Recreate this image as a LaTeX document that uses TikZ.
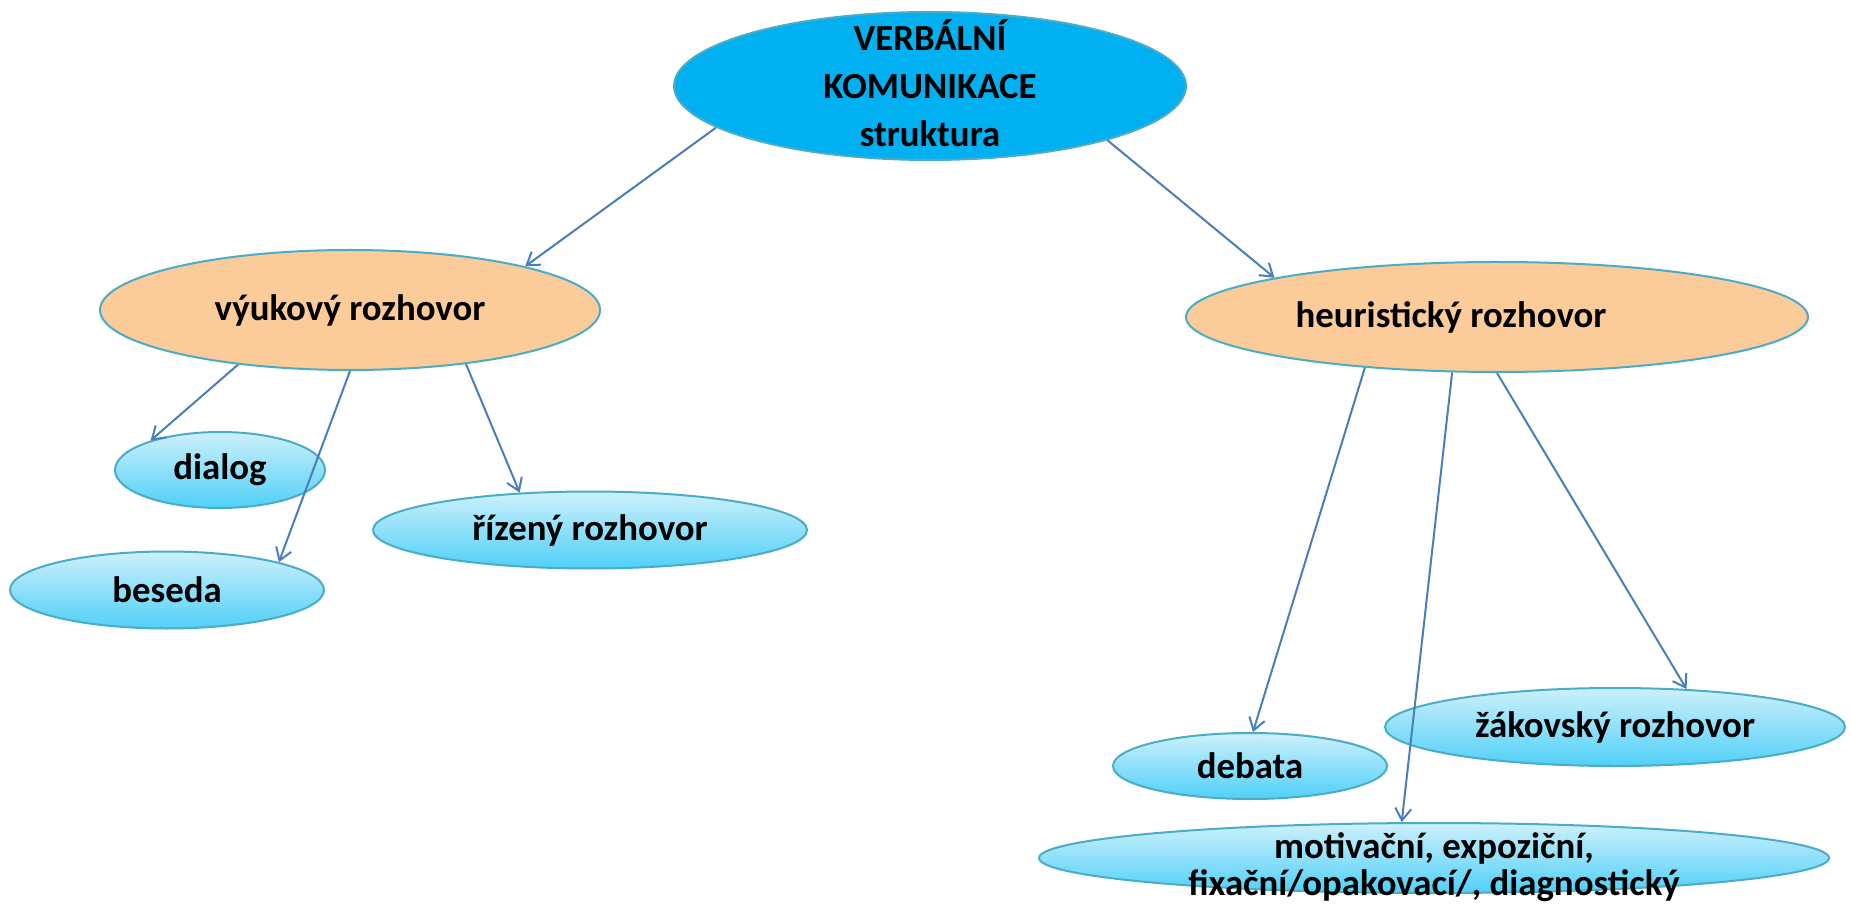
\documentclass[tikz,border=0pt]{standalone}
\usepackage{fontspec}
\setmainfont{Carlito}
\usetikzlibrary{shapes.geometric,arrows.meta}
\definecolor{rimblue}{HTML}{4BACC6}
\definecolor{headblue}{HTML}{00B0F0}
\definecolor{midorange}{HTML}{FBCB9A}
\definecolor{leaftop}{HTML}{CDF0FC}
\definecolor{leafbot}{HTML}{50D0F8}
\definecolor{linkblue}{HTML}{4A7EBB}
\tikzset{
  bub/.style={ellipse, draw=rimblue, line width=1pt, inner sep=0pt,
    font=\bfseries\fontsize{18.4pt}{22pt}\selectfont, align=center},
  headbub/.style={bub, fill=headblue},
  midbub/.style={bub, fill=midorange},
  leafbub/.style={bub, top color=leaftop, bottom color=leafbot},
  txt/.style={font=\bfseries\fontsize{18.4pt}{18.4pt}\selectfont, align=center, inner sep=0pt},
  headtxt/.style={txt, font=\bfseries\fontsize{18.4pt}{24pt}\selectfont},
  link/.style={draw=linkblue, line width=1pt, -{Straight Barb[length=6pt,width=8pt]}}
}
\begin{document}
\begin{tikzpicture}[x=0.5pt,y=-0.5pt]
		%%%%% START %%%%%
		\useasboundingbox (0,0) rectangle (1851,908);
		
		\node[headbub, minimum width=256pt, minimum height=74pt,
		  label={[headtxt, yshift=1.5pt]center:{VERBÁLNÍ\\KOMUNIKACE\\struktura}}] (top) at (930,86) {};
		
		\node[midbub, minimum width=250pt, minimum height=60pt] (vyuk) at (350,310) {výukový rozhovor};
		\node[midbub, minimum width=311pt, minimum height=55pt,
		  label={[txt, xshift=-23pt]center:heuristický rozhovor}] (heur) at (1497,317) {};
		
		\node[leafbub, minimum width=105pt, minimum height=38pt] (dialog) at (220,470) {dialog};
		\node[leafbub, minimum width=217pt, minimum height=38.5pt] (riz) at (590,530) {řízený rozhovor};
		\node[leafbub, minimum width=157pt, minimum height=38.5pt] (beseda) at (167,590) {beseda};
		
		\node[leafbub, minimum width=230pt, minimum height=39pt] (zak) at (1615,727) {žákovský rozhovor};
		\node[leafbub, minimum width=137pt, minimum height=33pt] (debata) at (1250,766) {debata};
		\node[leafbub, minimum width=395pt, minimum height=35pt,
		  label={[txt, yshift=-4.5pt]center:{motivační, expoziční,\\fixační/opakovací/, diagnostický}}] (motiv) at (1434,858) {};
		
		\draw[link] (top.191) -- (vyuk.14);
		\draw[link] (top.-17) -- (heur.170);
		
		\draw[link] (vyuk.206) -- (dialog.157);
		\draw[link] (vyuk.south) -- (beseda.14);
		\draw[link] (vyuk.-25) -- (riz.152);
		
		\draw[link] (heur.201) -- (debata.85);
		\draw[link] (heur.231) -- (motiv.132);
		\draw[link] (heur.south) -- (zak.28);
		
		%%%%% END %%%%%
	\end{tikzpicture}
\end{document}
